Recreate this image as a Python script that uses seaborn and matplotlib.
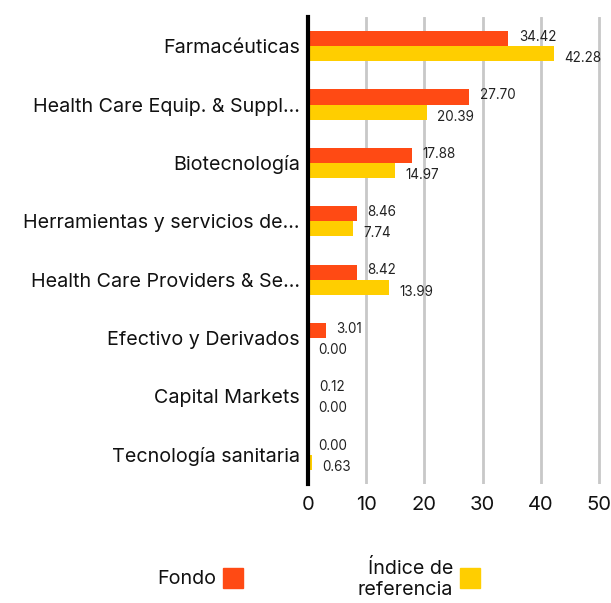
import matplotlib
matplotlib.use('Agg')
import matplotlib.pyplot as plt
import matplotlib.patches as mpatches
import seaborn as sns
import pandas as pd

categories = ['Farmacéuticas', 'Health Care Equip. & Suppl...', 'Biotecnología',
              'Herramientas y servicios de...', 'Health Care Providers & Se...',
              'Efectivo y Derivados', 'Capital Markets', 'Tecnología sanitaria']
fondo = [34.42, 27.70, 17.88, 8.46, 8.42, 3.01, 0.12, 0.00]
indice = [42.28, 20.39, 14.97, 7.74, 13.99, 0.00, 0.00, 0.63]
series = ['Fondo', 'Índice de referencia']
colors = ['#FF4A14', '#FFCE00']
xticks = [0, 10, 20, 30, 40, 50]

df = pd.DataFrame({
    'cat': categories * 2,
    'serie': [series[0]] * len(categories) + [series[1]] * len(categories),
    'val': fondo + indice,
})

sns.set_style('white')
plt.rcParams['font.family'] = ['Inter', 'DejaVu Sans']

fig = plt.figure(figsize=(6.11, 6.03), dpi=100)
ax = fig.add_axes([308 / 611, 1 - 484 / 603, 294 / 611, 467 / 603])

sns.barplot(data=df, y='cat', x='val', hue='serie', palette=colors,
            orient='h', width=0.52, dodge=True, ax=ax, legend=False,
            saturation=1, linewidth=0)

ax.set_xlim(0, 50.5)
ax.set_ylim(len(categories) - 0.5, -0.5)
ax.set_xticks(xticks)
ax.set_xticklabels([str(t) for t in xticks], fontsize=14.5, color='#111111')
ax.tick_params(axis='x', length=0, pad=9)
ax.tick_params(axis='y', length=0, pad=6)
ax.set_yticks(range(len(categories)))
ax.set_yticklabels(categories, fontsize=14.2, color='#111111')
ax.set_xlabel('')
ax.set_ylabel('')
ax.xaxis.grid(True, color='#c8c8c8', linewidth=2)
ax.set_axisbelow(True)
for s in ['top', 'right', 'bottom']:
    ax.spines[s].set_visible(False)
ax.spines['left'].set_color('black')
ax.spines['left'].set_linewidth(3)
ax.spines['left'].set_zorder(1)

# value labels
offsets = [1.2, -3.2]
for cont, off in zip(ax.containers, offsets):
    for p in cont.patches:
        w = p.get_width()
        y = p.get_y() + p.get_height() / 2
        ax.annotate(f'{w:.2f}', xy=(w, y), xytext=(7.5, off),
                    textcoords='offset points', va='center', ha='left',
                    fontsize=9.7, color='#222222')

# legend
fig.text(216 / 611, 1 - 579 / 603, 'Fondo', ha='right', va='center',
         fontsize=14.2, color='#111111')
fig.patches.append(mpatches.Rectangle((223 / 611, 1 - 588 / 603), 20 / 611, 20 / 603,
                                      transform=fig.transFigure, color=colors[0]))
fig.text(453 / 611, 1 - 579 / 603, 'Índice de\nreferencia', ha='right', va='center',
         fontsize=14.2, color='#111111', linespacing=1.2, multialignment='right')
fig.patches.append(mpatches.Rectangle((460 / 611, 1 - 588 / 603), 20 / 611, 20 / 603,
                                      transform=fig.transFigure, color=colors[1]))

fig.savefig('out.png', dpi=100)
